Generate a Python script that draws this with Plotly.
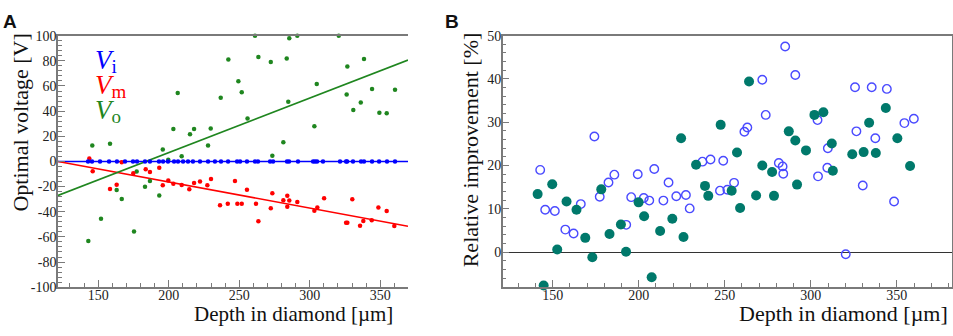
import plotly.graph_objects as go

# ---------------- Panel A data ----------------
depth_Vi = [142.8, 145.6, 151.3, 157.7, 163.3, 169.0, 174.7, 177.5, 183.2, 186.7, 193.1, 196.0,
            199.5, 203.8, 206.6, 210.2, 213.7, 217.2, 222.2, 227.9, 232.8, 237.1, 242.1, 248.5,
            250.6, 255.5, 261.2, 263.3, 271.9, 274.0, 283.9, 285.3, 291.7, 302.4, 303.8, 305.2,
            309.4, 321.5, 325.8, 326.5, 330.7, 336.4, 338.5, 344.2, 349.2, 354.8, 360.5]
V_i = [0.0] * len(depth_Vi)

depth_Vm = [143.7, 146.1, 158.4, 163.1, 166.7, 174.9, 183.7, 186.7, 193.3, 195.8, 199.7, 203.3,
            209.2, 214.6, 218.0, 222.2, 227.4, 230.0, 236.4, 241.9, 247.0, 248.7, 251.8, 255.5,
            261.9, 263.6, 272.4, 273.5, 281.3, 284.1, 284.1, 285.5, 291.2, 303.3, 305.4, 310.2,
            325.8, 326.7, 330.2, 335.7, 338.0, 344.0, 348.7, 354.6, 360.0]
V_m = [2.3, -7.8, -22.0, -18.5, -0.6, -9.3, -6.3, -8.4, -5.0, -19.0, -15.2, -17.7,
       -18.7, -22.2, -17.2, -15.9, -19.0, -13.9, -34.9, -33.6, -15.6, -33.6, -33.6, -22.5,
       -33.6, -47.5, -37.2, -25.3, -30.8, -27.3, -36.1, -31.1, -32.3, -39.2, -36.7, -29.3,
       -48.8, -48.8, -30.1, -51.1, -47.3, -46.8, -36.7, -39.5, -51.3]

depth_Vo = [143.0, 145.8, 152.0, 158.4, 163.1, 166.7, 175.4, 177.3, 183.2, 186.7, 193.3, 195.8,
            199.7, 203.3, 206.4, 209.2, 215.1, 218.0, 227.9, 229.8, 236.9, 242.3, 249.4, 251.8,
            255.9, 261.2, 263.6, 272.4, 273.5, 281.3, 283.7, 284.8, 285.5, 291.2, 303.3, 305.0,
            320.6, 326.2, 326.7, 330.9, 336.2, 338.5, 344.2, 349.4, 354.6, 360.5]
V_o = [-63.3, 12.7, -45.6, 14.0, -22.8, -29.8, -55.7, -8.0, -20.2, -15.6, -27.0, 9.4,
       1.3, 25.8, 54.4, 4.1, 21.6, 25.8, 12.7, 26.1, 50.6, 81.0, 63.8, 55.0,
       34.2, 100.0, 83.1, 79.0, 4.6, 15.2, 81.8, 47.4, 98.0, 100.0, 27.9, 61.5,
       100.0, 53.2, 75.5, 40.8, 46.8, 81.5, 57.5, 38.7, 38.3, 56.9]

# linear fit lines (end points)
fit_depth = [121.5, 369.7]
fit_Vi = [0.0, 0.0]
fit_Vm = [0.0, -51.6]
fit_Vo = [-27.0, 80.6]

yticks_A = [-100, -80, -60, -40, -20, 0, 20, 40, 60, 80, 100]
yticklabels_A = ["-100", "-80", "-60", "-40", "-20", "0", "20", "40", "60", "80", "100"]
xticks = [150, 200, 250, 300, 350]
xticklabels = ["150", "200", "250", "300", "350"]
legend_subs = ["i", "m", "o"]

# ---------------- Panel B data ----------------
depth_filled = [141.2, 149.7, 144.7, 152.6, 158.0, 163.8, 168.9, 173.0, 178.2, 183.0, 189.6, 192.6,
                199.9, 203.1, 207.5, 212.4, 219.5, 224.6, 226.0, 233.3, 238.5, 240.4, 247.6, 254.0,
                257.1, 258.9, 264.1, 268.2, 271.8, 277.5, 278.6, 287.2, 291.0, 292.0, 297.2, 302.1,
                307.3, 312.2, 312.8, 324.1, 330.7, 333.9, 337.8, 343.6, 350.3, 357.7]
impr_filled = [13.4, 15.7, -7.7, 0.6, 11.7, 9.8, 3.3, -1.2, 14.5, 4.2, 6.4, 0.1,
               11.5, 8.3, -5.8, 4.9, 7.7, 26.3, 3.5, 20.2, 15.3, 13.0, 29.4, 14.2,
               23.0, 10.2, 39.4, 13.1, 20.0, 18.5, 13.0, 27.9, 25.8, 15.6, 23.5, 31.7,
               32.3, 25.1, 18.8, 22.6, 23.1, 29.9, 22.9, 33.3, 26.3, 19.9]

depth_open = [142.7, 145.6, 151.2, 157.3, 162.1, 166.3, 174.2, 177.3, 182.4, 185.8, 192.7, 195.6,
              199.4, 202.9, 206.1, 209.0, 214.3, 217.3, 221.8, 227.4, 229.6, 237.0, 241.7, 247.2,
              249.1, 251.5, 255.4, 261.4, 263.1, 271.8, 273.8, 281.4, 283.6, 284.0, 285.1, 291.0,
              303.9, 304.2, 309.6, 309.9, 320.3, 325.7, 326.5, 330.2, 335.4, 337.5, 344.2, 348.4,
              354.4, 359.9]
impr_open = [19.0, 9.8, 9.5, 5.2, 4.3, 11.1, 26.7, 12.8, 16.1, 17.9, 6.3, 12.7,
             18.0, 12.5, 11.9, 19.2, 11.9, 16.1, 12.9, 13.2, 10.1, 20.9, 21.4, 14.2,
             21.1, 14.4, 16.0, 27.8, 28.8, 39.8, 31.7, 20.6, 19.8, 18.1, 47.5, 40.9,
             30.5, 17.5, 19.5, 24.0, -0.5, 38.1, 27.9, 15.4, 38.1, 26.3, 37.7, 11.7,
             29.8, 30.8]

BLUE = "#0000ff"
RED = "#ff0000"
GREEN = "#1f861f"
TEAL = "#00796b"
OPEN = "#4a4aff"
AXC = "#7a7a7a"
SERIF = "Liberation Serif"

fig = go.Figure()

# Panel A: fit lines
for ys, c in [(fit_Vi, BLUE), (fit_Vm, RED), (fit_Vo, GREEN)]:
    fig.add_trace(go.Scatter(x=fit_depth, y=ys, mode="lines", line=dict(color=c, width=1.6),
                             xaxis="x", yaxis="y", hoverinfo="skip"))
# Panel A: points
for xs, ys, c in [(depth_Vo, V_o, GREEN), (depth_Vm, V_m, RED), (depth_Vi, V_i, BLUE)]:
    fig.add_trace(go.Scatter(x=xs, y=ys, mode="markers", marker=dict(color=c, size=4.5),
                             xaxis="x", yaxis="y", cliponaxis=False))

# Panel B
fig.add_trace(go.Scatter(x=depth_open, y=impr_open, mode="markers",
                         marker=dict(symbol="circle-open", color=OPEN, size=8.5, line=dict(width=1.4)),
                         xaxis="x2", yaxis="y2", cliponaxis=False))
fig.add_trace(go.Scatter(x=depth_filled, y=impr_filled, mode="markers",
                         marker=dict(color=TEAL, size=10),
                         xaxis="x2", yaxis="y2", cliponaxis=False))

ydom = [1 - 293.3 / 336, 1 - 30 / 336]
tickfont = dict(family=SERIF, size=14, color="#222")

common_x = dict(showline=True, linecolor=AXC, linewidth=1.5, mirror=True, ticks="inside",
                tickcolor=AXC, tickwidth=1.3, ticklen=7, showgrid=False, zeroline=False,
                tickfont=tickfont, tickmode="array", tickvals=xticks, ticktext=xticklabels,
                ticklabelstandoff=-6,
                minor=dict(ticks="inside", tick0=0, dtick=10, ticklen=4, tickcolor=AXC, tickwidth=1.2))

fig.update_layout(
    width=953, height=336, margin=dict(l=0, r=0, t=0, b=0),
    paper_bgcolor="white", plot_bgcolor="white", showlegend=False,
    xaxis=dict(domain=[58 / 953, 408 / 953], range=[121.5, 369.7], anchor="y", **common_x),
    yaxis=dict(domain=ydom, range=[-100, 100], anchor="x", showline=True, linecolor=AXC,
               linewidth=1.5, mirror=False, ticks="inside", tickcolor=AXC, tickwidth=1.3,
               ticklen=7, showgrid=False, zeroline=False, tickfont=tickfont,
               tickmode="array", tickvals=yticks_A, ticktext=yticklabels_A, ticklabelstandoff=-3,
               minor=dict(ticks="inside", tick0=0, dtick=4, ticklen=4, tickcolor=AXC, tickwidth=1.2)),
    xaxis2=dict(domain=[502.7 / 953, 951.7 / 953], range=[120.9, 381.9], anchor="y2", **common_x),
    yaxis2=dict(domain=ydom, range=[-8.1, 50], anchor="x2", showline=True, linecolor=AXC,
                linewidth=1.5, mirror=True, ticks="inside", tickcolor=AXC, tickwidth=1.3,
                ticklen=7, showgrid=False, zeroline=True, zerolinecolor="#333", zerolinewidth=1.2,
                tickfont=tickfont, dtick=10, ticklabelstandoff=-3,
                minor=dict(ticks="inside", tick0=0, dtick=2, ticklen=4, tickcolor=AXC, tickwidth=1.2)),
)

ann = []
ann.append(dict(text="<b>A</b>", x=1 / 953, y=1 - 2 / 336, xref="paper", yref="paper",
                xanchor="left", yanchor="top", showarrow=False,
                font=dict(family="Liberation Sans", size=19, color="#111")))
ann.append(dict(text="<b>B</b>", x=443 / 953, y=1 - 2 / 336, xref="paper", yref="paper",
                xanchor="left", yanchor="top", showarrow=False,
                font=dict(family="Liberation Sans", size=19, color="#111")))
ann.append(dict(text="Optimal voltage [V]", x=21 / 953, y=1 - 121 / 336, xref="paper", yref="paper",
                textangle=-90, showarrow=False, xanchor="center", yanchor="middle",
                font=dict(family=SERIF, size=22, color="#111")))
ann.append(dict(text="Depth in diamond [µm]", x=395 / 953, y=1 - 321 / 336, xref="paper",
                yref="paper", xanchor="right", yanchor="middle", showarrow=False,
                font=dict(family=SERIF, size=21, color="#111")))
ann.append(dict(text="Depth in diamond [µm]", x=950 / 953, y=1 - 321 / 336, xref="paper",
                yref="paper", xanchor="right", yanchor="middle", showarrow=False,
                font=dict(family=SERIF, size=22, color="#111")))
ann.append(dict(text="Relative improvement [%]", x=470 / 953, y=1 - 150 / 336, xref="paper",
                yref="paper", textangle=-90, showarrow=False, xanchor="center", yanchor="middle",
                font=dict(family=SERIF, size=22, color="#111")))

# legend-like block V_i, V_m, V_o as one multi-line text (line spacing 1.3 x 19.2 px)
lines = []
for lab, c in zip(legend_subs, [BLUE, RED, GREEN]):
    lines.append('<span style="color:%s"><span style="font-size:27px"><i>V</i></span>'
                 '<sub><span style="font-size:19px">%s</span></sub></span>' % (c, lab))
ann.append(dict(text="<br>".join(lines), x=93 / 953, y=1 - 83 / 336, xref="paper", yref="paper",
                xanchor="left", yanchor="middle", align="left", showarrow=False,
                font=dict(family=SERIF, size=19.2, color=BLUE)))
fig.update_layout(annotations=ann)

post = (
    "document.documentElement.style.margin='0';document.documentElement.style.padding='0';"
    "document.documentElement.style.overflow='hidden';"
    "document.body.style.margin='0';document.body.style.padding='0';document.body.style.overflow='hidden';"
    "var d=document.getElementsByClassName('plotly-graph-div')[0];"
    "d.style.position='fixed';d.style.left='0px';d.style.top='0px';"
)
fig.write_html("out.html", config={"displayModeBar": False}, post_script=post)
